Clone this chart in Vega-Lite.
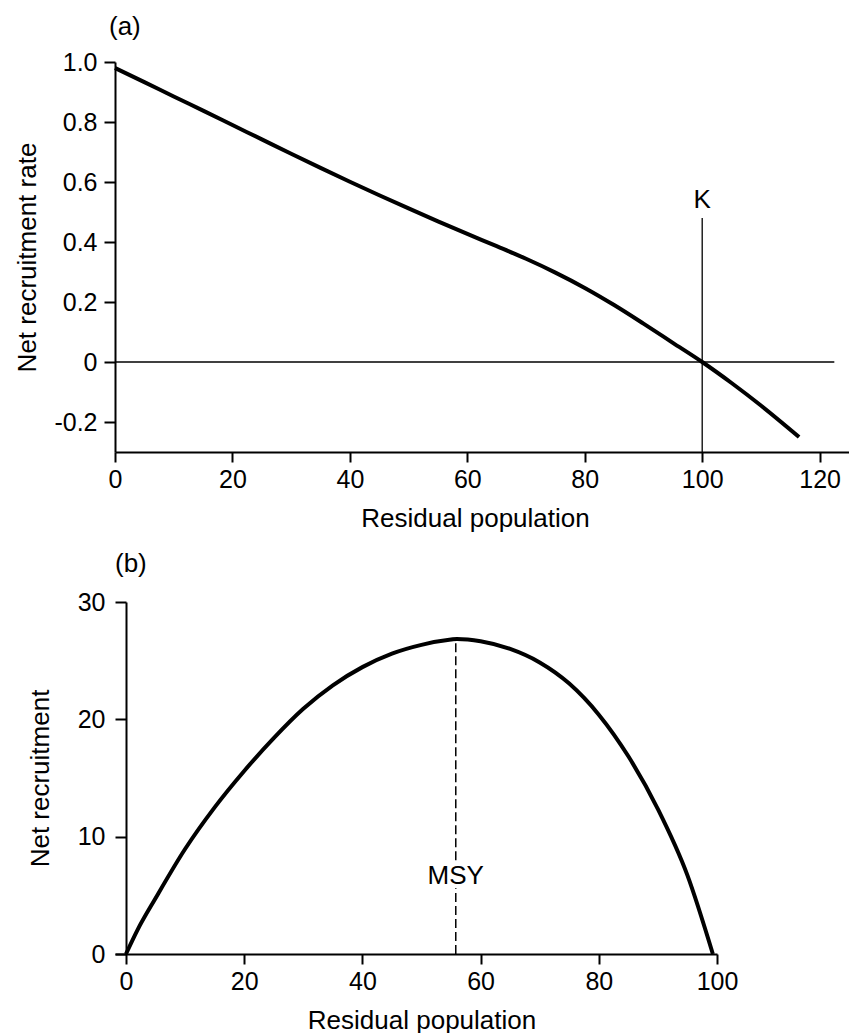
{
  "$schema": "https://vega.github.io/schema/vega-lite/v6.json",
  "background": "white",
  "padding": {"left": 14, "top": 14, "right": 0, "bottom": 0},
  "spacing": 20,
  "config": {
    "font": "Liberation Sans",
    "view": {"stroke": null},
    "axis": {
      "grid": false,
      "domainColor": "black",
      "domainWidth": 2,
      "tickColor": "black",
      "tickWidth": 2,
      "tickSize": 11,
      "labelColor": "black",
      "labelFontSize": 25,
      "labelFont": "Liberation Sans",
      "titleColor": "black",
      "titleFontSize": 26,
      "titleFontWeight": "normal",
      "titleFont": "Liberation Sans",
      "labelFlush": false,
      "labelOverlap": false
    },
    "title": {"fontSize": 26, "fontWeight": "normal", "color": "black", "font": "Liberation Sans"}
  },
  "vconcat": [
    {
      "width": 734,
      "height": 390,
      "title": {"text": "(a)", "anchor": "start", "frame": "group", "dx": -6, "offset": -11, "baseline": "alphabetic"},
      "layer": [
        {
          "data": {"values": [
            {"x": 0, "y": 0.98}, {"x": 5, "y": 0.933}, {"x": 10, "y": 0.885}, {"x": 15, "y": 0.838},
            {"x": 20, "y": 0.79}, {"x": 25, "y": 0.742}, {"x": 30, "y": 0.694}, {"x": 35, "y": 0.647},
            {"x": 40, "y": 0.601}, {"x": 45, "y": 0.556}, {"x": 50, "y": 0.512}, {"x": 55, "y": 0.469},
            {"x": 60, "y": 0.427}, {"x": 65, "y": 0.386}, {"x": 70, "y": 0.344}, {"x": 75, "y": 0.298},
            {"x": 80, "y": 0.247}, {"x": 85, "y": 0.19}, {"x": 90, "y": 0.128}, {"x": 95, "y": 0.064},
            {"x": 100, "y": 0.0}, {"x": 105, "y": -0.07}, {"x": 110, "y": -0.145}, {"x": 116.5, "y": -0.25}
          ]},
          "mark": {"type": "line", "color": "black", "strokeWidth": 4, "interpolate": "monotone"},
          "encoding": {
            "x": {
              "field": "x", "type": "quantitative",
              "scale": {"domain": [0, 125], "nice": false, "zero": false},
              "axis": {"values": [0, 20, 40, 60, 80, 100, 120], "title": "Residual population", "tickSize": 10, "labelPadding": 5, "titleX": 360, "titleY": 74, "titleBaseline": "alphabetic"}
            },
            "y": {
              "field": "y", "type": "quantitative",
              "scale": {"domain": [-0.3, 1.0], "nice": false, "zero": false},
              "axis": {
                "values": [-0.2, 0, 0.2, 0.4, 0.6, 0.8, 1.0],
                "labelExpr": "datum.value == 0 ? '0' : (datum.value < 0 ? '-' + format(-datum.value, '.1f') : format(datum.value, '.1f'))",
                "title": "Net recruitment rate", "titleX": -88, "titleBaseline": "middle", "labelPadding": 7
              }
            }
          }
        },
        {
          "data": {"values": [{"x": 0, "x2": 122.5, "y": 0}]},
          "mark": {"type": "rule", "color": "black", "strokeWidth": 1.3},
          "encoding": {
            "x": {"field": "x", "type": "quantitative"},
            "x2": {"field": "x2"},
            "y": {"field": "y", "type": "quantitative"}
          }
        },
        {
          "data": {"values": [{"x": 100, "y": -0.3, "y2": 0.48}]},
          "mark": {"type": "rule", "color": "black", "strokeWidth": 1.3},
          "encoding": {
            "x": {"field": "x", "type": "quantitative"},
            "y": {"field": "y", "type": "quantitative"},
            "y2": {"field": "y2"}
          }
        },
        {
          "data": {"values": [{"x": 100, "y": 0.513, "label": "K"}]},
          "mark": {"type": "text", "fontSize": 26, "baseline": "alphabetic", "align": "center", "color": "black", "font": "Liberation Sans"},
          "encoding": {
            "x": {"field": "x", "type": "quantitative"},
            "y": {"field": "y", "type": "quantitative"},
            "text": {"field": "label"}
          }
        }
      ]
    },
    {
      "width": 602,
      "height": 352,
      "title": {"text": "(b)", "anchor": "start", "frame": "group", "dx": 0, "offset": -8, "baseline": "alphabetic"},
      "layer": [
        {
          "data": {"values": [
            {"x": 0, "y": 0}, {"x": 2, "y": 2.1}, {"x": 5, "y": 4.75}, {"x": 10, "y": 8.95},
            {"x": 15, "y": 12.5}, {"x": 20, "y": 15.6}, {"x": 25, "y": 18.4}, {"x": 30, "y": 20.9},
            {"x": 35, "y": 22.9}, {"x": 40, "y": 24.45}, {"x": 45, "y": 25.6}, {"x": 50, "y": 26.35},
            {"x": 55, "y": 26.8}, {"x": 56, "y": 26.85}, {"x": 60, "y": 26.65}, {"x": 65, "y": 26.0},
            {"x": 70, "y": 24.85}, {"x": 75, "y": 23.05}, {"x": 80, "y": 20.4}, {"x": 85, "y": 16.85},
            {"x": 90, "y": 12.35}, {"x": 95, "y": 6.7}, {"x": 99.3, "y": 0}
          ]},
          "mark": {"type": "line", "color": "black", "strokeWidth": 4, "interpolate": "monotone"},
          "encoding": {
            "x": {
              "field": "x", "type": "quantitative",
              "scale": {"domain": [-1.86, 100], "nice": false, "zero": false},
              "axis": {"values": [0, 20, 40, 60, 80, 100], "title": "Residual population", "tickSize": 10, "labelPadding": 5, "titleX": 306.5, "titleY": 74, "titleBaseline": "alphabetic"}
            },
            "y": {
              "field": "y", "type": "quantitative",
              "scale": {"domain": [0, 30], "nice": false, "zero": false},
              "axis": {"values": [0, 10, 20, 30], "offset": -11, "title": "Net recruitment", "titleX": -86, "titleBaseline": "middle", "labelPadding": 10}
            }
          }
        },
        {
          "data": {"values": [{"x": 55.8, "y": 0, "y2": 5.6}, {"x": 55.8, "y": 8.0, "y2": 26.85}]},
          "mark": {"type": "rule", "color": "black", "strokeWidth": 1.5, "strokeDash": [9, 4]},
          "encoding": {
            "x": {"field": "x", "type": "quantitative"},
            "y": {"field": "y", "type": "quantitative"},
            "y2": {"field": "y2"}
          }
        },
        {
          "data": {"values": [{"x": 55.8, "y": 5.97, "label": "MSY"}]},
          "mark": {"type": "text", "fontSize": 26, "baseline": "alphabetic", "align": "center", "color": "black", "font": "Liberation Sans"},
          "encoding": {
            "x": {"field": "x", "type": "quantitative"},
            "y": {"field": "y", "type": "quantitative"},
            "text": {"field": "label"}
          }
        }
      ]
    }
  ]
}
